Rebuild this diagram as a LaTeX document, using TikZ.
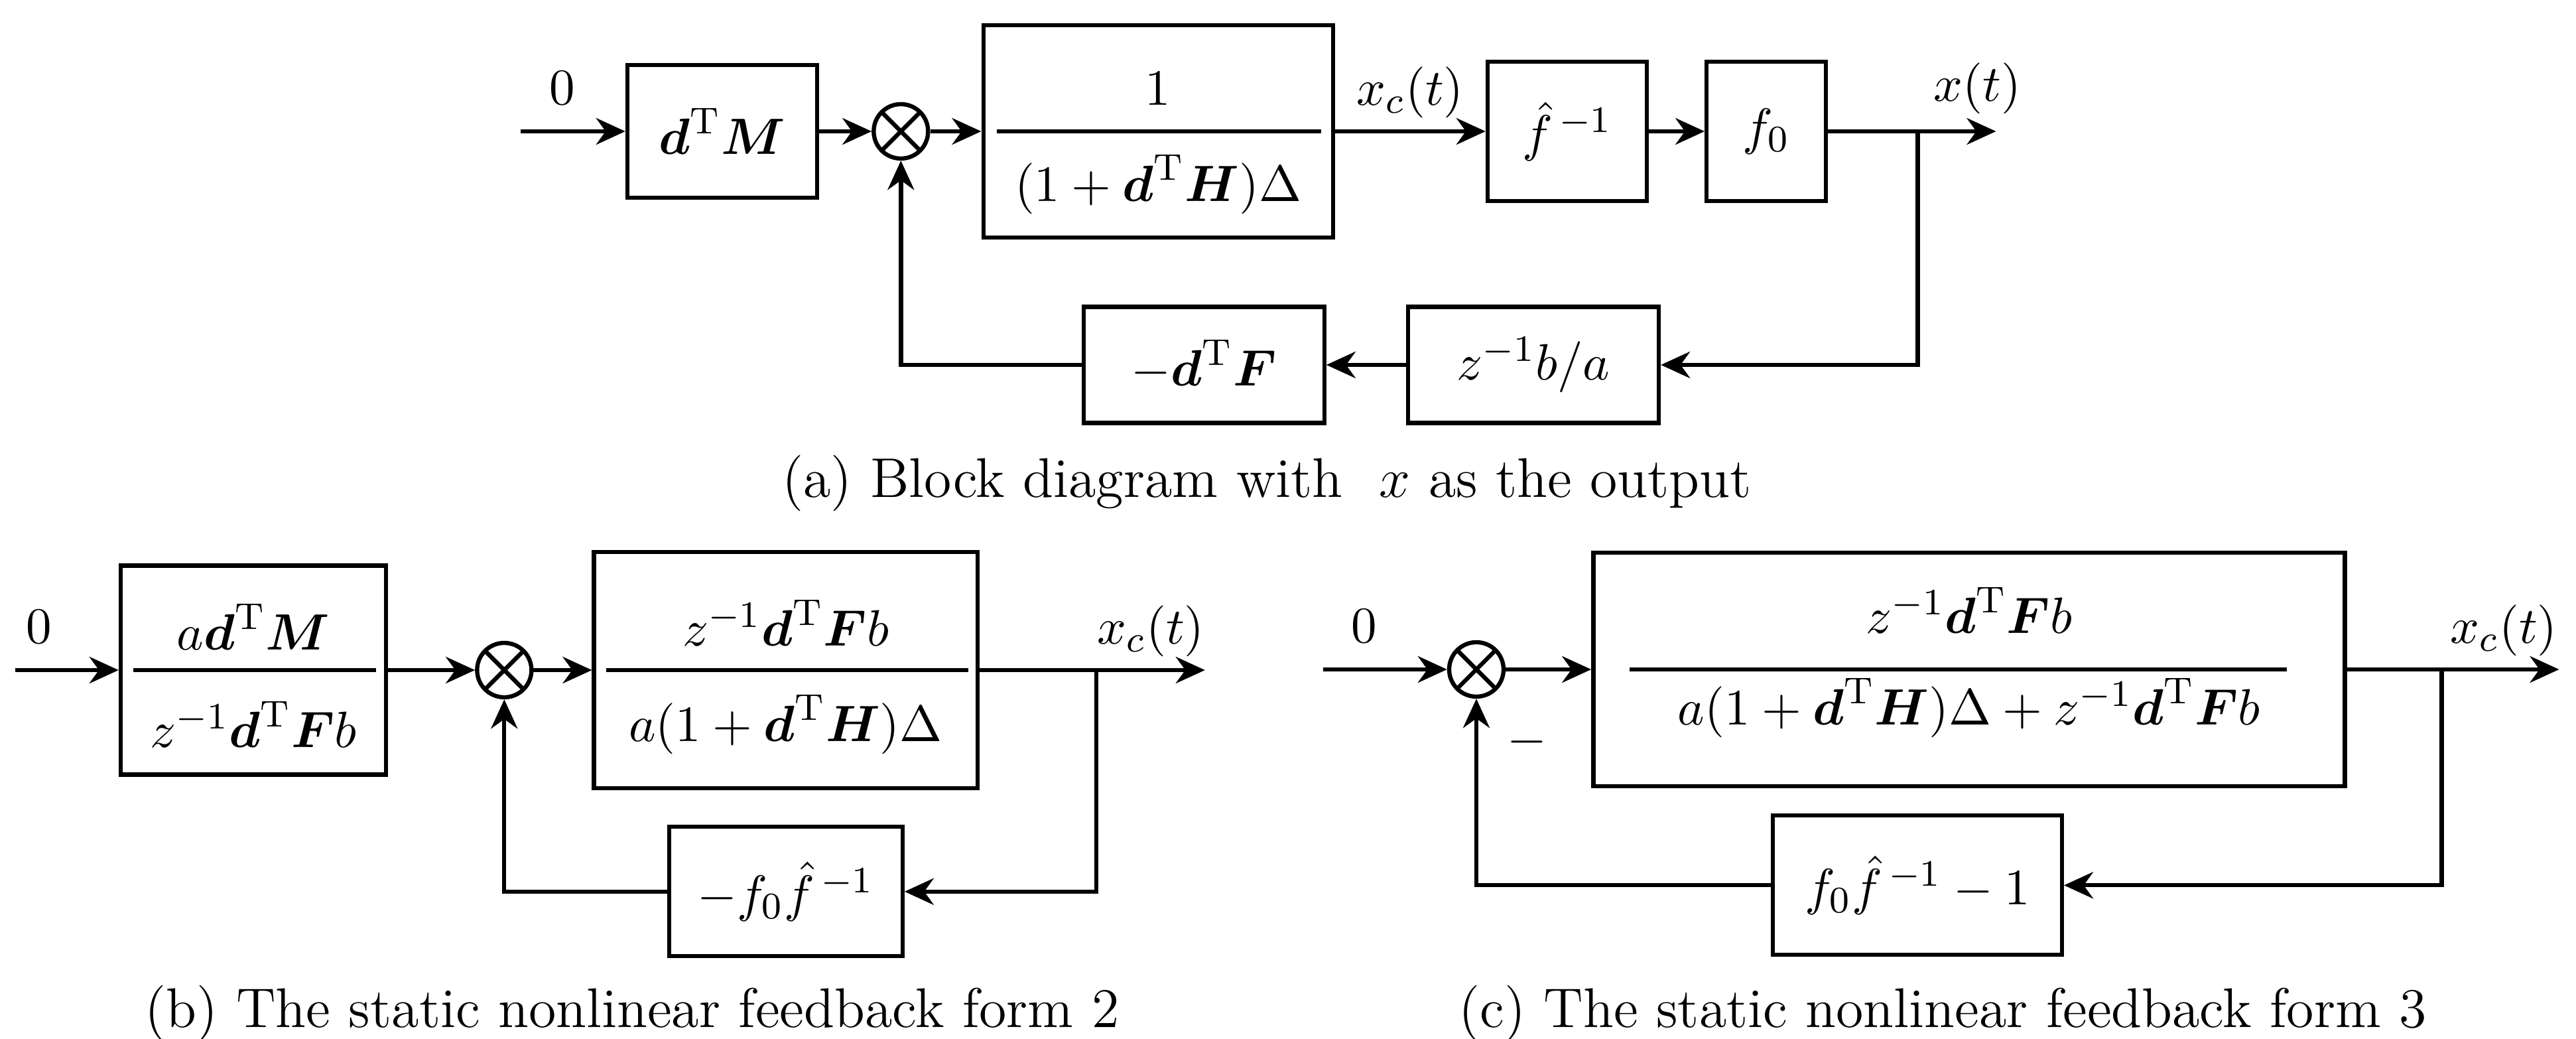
\documentclass[tikz,border=0pt]{standalone}
\usepackage{amsmath, amssymb}
\usepackage{tikz}
\usetikzlibrary{positioning, arrows.meta, calc}
\newcommand{\vd}{\boldsymbol{d}}
\newcommand{\vM}{\boldsymbol{M}}
\newcommand{\vH}{\boldsymbol{H}}
\newcommand{\vF}{\boldsymbol{F}}

\begin{document}
\begin{tikzpicture}[
        font=\fontsize{11}{13}\selectfont,
        block/.style={draw, rectangle, line width=0.9pt, inner sep=0pt, align=center},
        sumnode/.style={draw, circle, line width=0.9pt, minimum size=0.41cm, inner sep=0pt,
            path picture={\draw[line width=0.9pt] (path picture bounding box.north west) -- (path picture bounding box.south east)
                (path picture bounding box.north east) -- (path picture bounding box.south west);}},
        lbl/.style={inner sep=1pt},
        caption/.style={font=\fontsize{12}{14}\selectfont},
        arr/.style={-{Stealth[length=2.2mm, width=2mm]}, line width=0.9pt},
        bar/.style={line width=0.9pt}
    ]
    \useasboundingbox (0,0) rectangle (19.42,-7.83);

    % (a) Block diagram
    \node[block, minimum width=1.43cm, minimum height=1cm] (dtm) at (5.445,-0.99) {$\vd^{\mathrm{T}}\vM$};
    \node[sumnode] (suma) [right=0.395cm of dtm] {};
    \node[block, minimum width=2.635cm, minimum height=1.6cm] (gain) [right=0.385cm of suma] {};
    \node[block, minimum width=1.2cm, minimum height=1.05cm] (finv) [right=1.135cm of gain] {$\hat{f}^{\,-1}$};
    \node[block, minimum width=0.9cm, minimum height=1.05cm] (fzero) [right=0.42cm of finv] {$f_0$};
    \coordinate[left=0.79cm of dtm] (ina);
    \coordinate[right=0.675cm of fzero] (tapa);
    \coordinate[right=0.59cm of tapa] (outa);
    \node (gainnum) at ($(gain)+(0,0.32)$) {$1$};
    \node (gainden) at ($(gain)+(0,-0.4)$) {$(1+\vd^{\mathrm{T}}\vH)\Delta$};
    \draw[bar] ($(gain.west)+(0.115,0)$) -- ($(gain.east)+(-0.105,0)$);
    \node[block, minimum width=1.89cm, minimum height=0.875cm] (zba) at (11.56,-2.75) {$z^{-1}b/a$};
    \node[block, minimum width=1.815cm, minimum height=0.875cm] (dtf) [left=0.6cm of zba] {$-\vd^{\mathrm{T}}\vF$};

    \draw[arr] (ina) -- node[lbl, pos=0.4, above=0.15cm] (zeroa) {$0$} (dtm);
    \draw[arr] (dtm) -- (suma);
    \draw[arr] (suma) -- (gain);
    \draw[arr] (gain) -- node[lbl, above=0.05cm] (xca) {$x_c(t)$} (finv);
    \draw[arr] (finv) -- (fzero);
    \draw[arr] (fzero) -- (outa) node[lbl, pos=0.89, above=0.08cm] (xta) {$x(t)$};
    \draw[arr] (tapa) |- (zba);
    \draw[arr] (zba) -- (dtf);
    \draw[arr] (dtf) -| (suma);

    \node[caption] (capa) at (9.55,-3.64) {(a) Block diagram with\ \ $x$ as the output};

    % (b) Static nonlinear feedback form 2
    \node[block, minimum width=2cm, minimum height=1.575cm] (amb) at (1.91,-5.05) {};
    \node[sumnode] (sumb) [right=0.655cm of amb] {};
    \node[block, minimum width=2.89cm, minimum height=1.78cm] (gainb) [right=0.44cm of sumb] {};
    \node[block, minimum width=1.76cm, minimum height=0.975cm] (fbb) [below=0.26cm of gainb] {$-f_0\hat{f}^{\,-1}$};
    \coordinate[left=0.78cm of amb] (inb);
    \coordinate[right=0.88cm of gainb] (tapb);
    \coordinate[right=0.82cm of tapb] (outb);
    \node (ambnum) at ($(amb)+(0,0.325)$) {$a\vd^{\mathrm{T}}\vM$};
    \node (ambden) at ($(amb)+(0,-0.41)$) {$z^{-1}\vd^{\mathrm{T}}\vF b$};
    \draw[bar] ($(amb.west)+(0.11,0)$) -- ($(amb.east)+(-0.09,0)$);
    \node (gainbnum) at ($(gainb)+(0,0.355)$) {$z^{-1}\vd^{\mathrm{T}}\vF b$};
    \node (gainbden) at ($(gainb)+(0,-0.41)$) {$a(1+\vd^{\mathrm{T}}\vH)\Delta$};
    \draw[bar] ($(gainb.west)+(0.11,0)$) -- ($(gainb.east)+(-0.085,0)$);

    \draw[arr] (inb) -- node[lbl, pos=0.23, above=0.15cm] (zerob) {$0$} (amb);
    \draw[arr] (amb) -- (sumb);
    \draw[arr] (sumb) -- (gainb);
    \draw[arr] (gainb) -- (outb) node[lbl, pos=0.76, above=0.05cm] (xcb) {$x_c(t)$};
    \draw[arr] (tapb) |- (fbb);
    \draw[arr] (fbb) -| (sumb);

    \node[caption] (capb) at (4.765,-7.635) {(b) The static nonlinear feedback form 2};

    % (c) Static nonlinear feedback form 3
    \node[sumnode] (sumc) at (11.13,-5.045) {};
    \node[block, minimum width=5.665cm, minimum height=1.76cm] (gainc) [right=0.645cm of sumc] {};
    \node[block, minimum width=2.18cm, minimum height=1.05cm] (fbc) [below=0.19cm of gainc, xshift=-0.39cm] {$f_0\hat{f}^{\,-1}-1$};
    \coordinate[left=0.935cm of sumc] (inc);
    \coordinate[right=0.715cm of gainc] (tapc);
    \coordinate[right=0.885cm of tapc] (outc);
    \node (gaincnum) at ($(gainc)+(0,0.445)$) {$z^{-1}\vd^{\mathrm{T}}\vF b$};
    \node (gaincden) at ($(gainc)+(0,-0.29)$) {$a(1+\vd^{\mathrm{T}}\vH)\Delta+z^{-1}\vd^{\mathrm{T}}\vF b$};
    \draw[bar] ($(gainc.west)+(0.29,0)$) -- ($(gainc.east)+(-0.455,0)$);
    \node (minusc) at ($(sumc)+(0.38,-0.545)$) {$-$};

    \draw[arr] (inc) -- node[lbl, pos=0.33, above=0.15cm] (zeroc) {$0$} (sumc);
    \draw[arr] (sumc) -- (gainc);
    \draw[arr] (gainc) -- (outc) node[lbl, pos=0.74, above=0.05cm] (xcc) {$x_c(t)$};
    \draw[arr] (tapc) |- (fbc);
    \draw[arr] (fbc) -| (sumc);

    \node[caption] (capc) at (14.645,-7.635) {(c) The static nonlinear feedback form 3};

\end{tikzpicture}
\end{document}
